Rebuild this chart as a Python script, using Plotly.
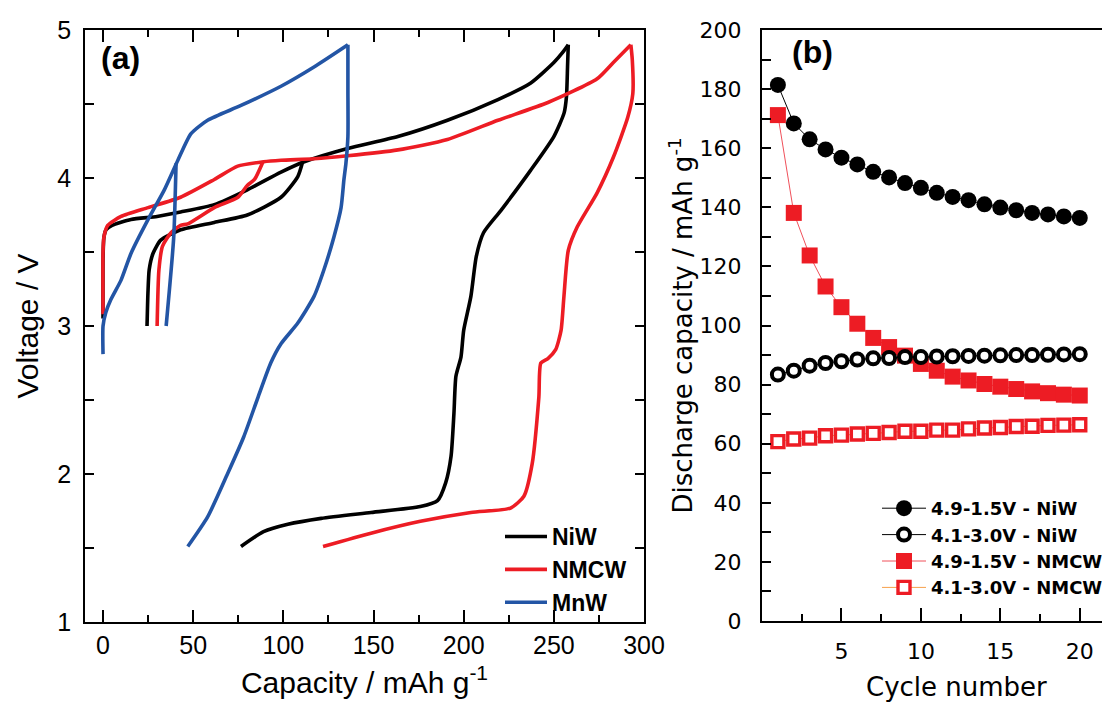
import plotly.graph_objects as go

# ---------------- Panel (a): voltage profiles (charge | discharge | 4.1-3.0 V discharge) ----------------
niw_cap = [0, 0, 0.5, 1.7, 5, 15.5, 30, 43, 61.7, 80, 98.7, 111.6, 135.6, 163.5, 191, 219, 237, 250, 255, 258,
           None,
           258, 257.6, 257, 255.7, 250, 237, 220.6, 211, 207, 204, 200, 198.5, 195.7, 194.6, 193, 190, 185.5, 176, 148.6,
           121, 102.5, 89, 76.5,
           None,
           110.7, 108, 98.7, 80, 61.7, 43, 32, 27.7, 25.6, 24.9, 24.4]
niw_volt = [3.05, 3.45, 3.6, 3.65, 3.68, 3.72, 3.74, 3.77, 3.82, 3.92, 4.04, 4.11, 4.20, 4.28, 4.39, 4.53, 4.64, 4.78, 4.85, 4.90,
            None,
            4.90, 4.75, 4.55, 4.44, 4.28, 4.05, 3.78, 3.63, 3.47, 3.20, 2.97, 2.79, 2.66, 2.41, 2.12, 1.94, 1.82, 1.78, 1.74,
            1.70, 1.66, 1.61, 1.51,
            None,
            4.11, 4.01, 3.87, 3.75, 3.70, 3.65, 3.58, 3.49, 3.38, 3.22, 3.00]

nmcw_cap = [0, 0, 0.5, 2.6, 10, 25, 43, 61.7, 74.7, 89, 98.7, 117, 135.6, 163.5, 191, 219, 246.7, 274, 283, 292.7,
            None,
            292.7, 293.5, 293.8, 291, 283, 274, 263, 258, 255.6, 254, 251, 246.7, 242.8, 241.7, 238, 233.4, 226, 204, 176,
            148.6, 122,
            None,
            88.7, 84, 80, 74.8, 61.7, 47, 43, 37.7, 33, 31, 30]
nmcw_volt = [3.08, 3.5, 3.6, 3.68, 3.74, 3.80, 3.87, 3.99, 4.08, 4.11, 4.12, 4.13, 4.15, 4.19, 4.26, 4.39, 4.51, 4.67, 4.78, 4.90,
             None,
             4.90, 4.80, 4.57, 4.41, 4.14, 3.90, 3.67, 3.51, 3.20, 2.97, 2.84, 2.78, 2.75, 2.52, 2.07, 1.85, 1.77, 1.74, 1.68,
             1.60, 1.51,
             None,
             4.11, 3.99, 3.95, 3.87, 3.80, 3.69, 3.68, 3.63, 3.54, 3.38, 3.00]

mnw_cap = [0, 0, 1.5, 4.4, 10, 15.5, 25, 34, 41.5, 48.8, 58, 76.5, 98.7, 117, 135.8,
           None,
           135.8, 135.8, 135.8, 134.7, 133.6, 132, 128, 122.5, 117, 108, 98.7, 93, 86, 78, 69, 58, 47,
           None,
           40.5, 39.2, 35]
mnw_volt = [2.81, 3.0, 3.09, 3.18, 3.31, 3.49, 3.72, 3.92, 4.12, 4.30, 4.39, 4.49, 4.62, 4.75, 4.90,
            None,
            4.90, 4.60, 4.28, 4.10, 3.99, 3.80, 3.60, 3.38, 3.20, 3.02, 2.88, 2.75, 2.52, 2.25, 2.00, 1.71, 1.51,
            None,
            4.10, 3.60, 3.00]

# ---------------- Panel (b): cycling ----------------
cycles = list(range(1, 21))
niw_hi = [181.4, 168.4, 163.0, 159.6, 156.8, 154.5, 152.0, 150.1, 148.2, 146.6,
          144.9, 143.5, 142.4, 141.0, 139.9, 139.0, 138.1, 137.6, 136.9, 136.4]
niw_lo = [83.4, 84.7, 86.4, 87.3, 87.9, 88.5, 88.9, 89.0, 89.3, 89.3,
          89.5, 89.6, 89.7, 89.8, 89.9, 90.0, 90.0, 90.1, 90.2, 90.3]
nmcw_hi = [171.2, 138.1, 123.7, 113.2, 106.2, 100.6, 95.8, 92.7, 89.8, 87.0,
           84.7, 82.7, 81.4, 80.2, 79.3, 78.5, 77.7, 77.1, 76.6, 76.3]
nmcw_lo = [60.7, 61.6, 61.9, 62.7, 62.9, 63.3, 63.5, 63.8, 64.2, 64.2,
           64.6, 64.6, 65.0, 65.3, 65.5, 65.8, 65.9, 66.2, 66.3, 66.4]

BLACK = "#000000"
RED = "#ED1C24"
BLUE = "#2355A5"

W, H = 1102, 708
def px(x):
    return x / W
def py(y):
    return 1 - y / H

fig = go.Figure()

line_a = dict(width=3.6, shape="spline", smoothing=0.6)
fig.add_trace(go.Scatter(x=niw_cap, y=niw_volt, mode="lines", name="NiW",
                         line=dict(color=BLACK, **line_a), connectgaps=False,
                         xaxis="x", yaxis="y", legend="legend"))
fig.add_trace(go.Scatter(x=nmcw_cap, y=nmcw_volt, mode="lines", name="NMCW",
                         line=dict(color=RED, **line_a), connectgaps=False,
                         xaxis="x", yaxis="y", legend="legend"))
fig.add_trace(go.Scatter(x=mnw_cap, y=mnw_volt, mode="lines", name="MnW",
                         line=dict(color=BLUE, **line_a), connectgaps=False,
                         xaxis="x", yaxis="y", legend="legend"))

fig.add_trace(go.Scatter(x=cycles, y=nmcw_hi, mode="lines+markers", name="4.9-1.5V - NMCW",
                         line=dict(color="#F0505A", width=1),
                         marker=dict(symbol="square", size=16, color=RED, line=dict(width=0)),
                         xaxis="x2", yaxis="y2", legend="legend2", legendrank=3))
fig.add_trace(go.Scatter(x=cycles, y=nmcw_lo, mode="lines+markers", name="4.1-3.0V - NMCW",
                         line=dict(color="#F7A04A", width=1),
                         marker=dict(symbol="square", size=12, color="white", line=dict(width=3.4, color=RED)),
                         xaxis="x2", yaxis="y2", legend="legend2", legendrank=4))
fig.add_trace(go.Scatter(x=cycles, y=niw_hi, mode="lines+markers", name="4.9-1.5V - NiW",
                         line=dict(color=BLACK, width=1),
                         marker=dict(symbol="circle", size=16, color=BLACK, line=dict(width=0)),
                         xaxis="x2", yaxis="y2", legend="legend2", legendrank=1))
fig.add_trace(go.Scatter(x=cycles, y=niw_lo, mode="lines+markers", name="4.1-3.0V - NiW",
                         line=dict(color=BLACK, width=1),
                         marker=dict(symbol="circle", size=12, color="white", line=dict(width=4, color=BLACK)),
                         xaxis="x2", yaxis="y2", legend="legend2", legendrank=2))

FA = "Liberation Sans, Arial, sans-serif"
FB = "DejaVu Sans, Verdana, sans-serif"
NB = "\u00a0"

fig.update_layout(
    width=W, height=H,
    margin=dict(l=0, r=0, t=0, b=0, autoexpand=False),
    paper_bgcolor="white", plot_bgcolor="white",
    xaxis=dict(domain=[px(85), px(644)], range=[-10, 300], dtick=50, tick0=0,
               showgrid=False, zeroline=False, showline=True, linecolor="black", linewidth=2,
               mirror="ticks", ticks="inside", ticklen=12, tickwidth=1.6, tickcolor="black",
               minor=dict(dtick=25, ticks="inside", ticklen=7, tickwidth=1.6, tickcolor="black"),
               tickfont=dict(family=FA, size=25, color="black"),
               title=dict(text="Capacity / mAh g<sup>-1</sup>", font=dict(family=FA, size=30, color="black"), standoff=14)),
    yaxis=dict(domain=[py(622), py(30)], range=[1, 5], dtick=1,
               showgrid=False, zeroline=False, showline=True, linecolor="black", linewidth=2,
               mirror="ticks", ticks="inside", ticklen=9, tickwidth=1.6, tickcolor="black",
               minor=dict(dtick=0.5, ticks="inside", ticklen=9, tickwidth=1.6, tickcolor="black"),
               tickfont=dict(family=FA, size=25, color="black"), ticksuffix=NB,
               title=dict(text="Voltage / V", font=dict(family=FA, size=30, color="black"), standoff=10)),
    xaxis2=dict(domain=[px(762), 1.0], range=[0, 21.4], tickvals=[5, 10, 15, 20],
                showgrid=False, zeroline=False, showline=True, linecolor="black", linewidth=2,
                mirror=True, ticks="inside", ticklen=13, tickwidth=1.6, tickcolor="black",
                minor=dict(tickvals=[2.5, 7.5, 12.5, 17.5], ticks="inside", ticklen=7, tickwidth=1.6, tickcolor="black"),
                tickfont=dict(family=FB, size=22, color="black"), ticklabelstandoff=10,
                anchor="y2"),
    yaxis2=dict(domain=[py(621), py(30)], range=[0, 200], dtick=20,
                showgrid=False, zeroline=False, showline=True, linecolor="black", linewidth=2,
                mirror=False, ticks="inside", ticklen=9, tickwidth=1.6, tickcolor="black",
                minor=dict(dtick=10, ticks="inside", ticklen=9, tickwidth=1.6, tickcolor="black"),
                tickfont=dict(family=FB, size=22, color="black"), ticksuffix=NB + NB,
                title=dict(text="Discharge capacity / mAh g<sup>-1</sup>", font=dict(family=FB, size=26, color="black"), standoff=0),
                anchor="x2"),
    legend=dict(x=px(500), y=py(515), xanchor="left", yanchor="top", bgcolor="rgba(0,0,0,0)",
                itemwidth=42,
                font=dict(family=FA, size=23, color="black", weight="bold"), tracegroupgap=0),
    legend2=dict(x=px(877), y=py(490), xanchor="left", yanchor="top", bgcolor="rgba(0,0,0,0)",
                 itemwidth=44,
                 font=dict(family=FB, size=18, color="black", weight="bold"), traceorder="normal"),
    annotations=[
        dict(text="<b>(a)</b>", x=px(120), y=py(58), xref="paper", yref="paper", showarrow=False,
             xanchor="center", yanchor="middle", font=dict(family=FA, size=32, color="black")),
        dict(text="<b>(b)</b>", x=px(812), y=py(52), xref="paper", yref="paper", showarrow=False,
             xanchor="center", yanchor="middle", font=dict(family=FA, size=32, color="black")),
        dict(text="Cycle number", x=px(956), y=py(687), xref="paper", yref="paper", showarrow=False,
             xanchor="center", yanchor="middle", font=dict(family=FB, size=26, color="black")),
    ],
)

fig.write_html("out.html")
